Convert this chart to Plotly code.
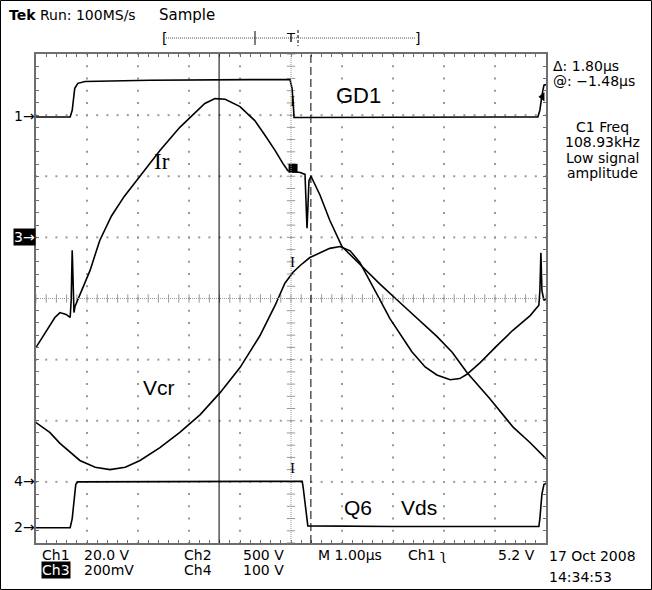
import plotly.graph_objects as go

# ---------------- data (time in µs, level in divisions from screen centre) ----------------
gd1_t = [-5.0, -4.33, -4.29, -4.27, -4.24, -4.18, -4.04, -2.77, -1.78, -0.80, -0.02, 0.02, 0.04, 0.06,
         0.18, 2.14, 4.10, 4.84, 4.88, 4.92, 4.96, 5.0]
gd1_v = [2.97, 2.97, 3.08, 3.24, 3.44, 3.52, 3.55, 3.57, 3.58, 3.58, 3.58, 3.44, 3.24, 2.96,
         2.96, 2.97, 2.97, 2.97, 3.08, 3.32, 3.49, 3.50]

vds_t = [-5.0, -4.33, -4.29, -4.25, -4.22, -4.18, -2.0, 0.22, 0.24, 0.28, 0.31, 0.33, 2.0, 4.86,
         4.88, 4.92, 4.96, 5.0]
vds_v = [-3.75, -3.75, -3.60, -3.20, -3.04, -3.00, -2.99, -2.99, -3.10, -3.40, -3.68, -3.72, -3.73, -3.73,
         -3.60, -3.20, -3.04, -3.03]

ir_t = [-5.0, -4.82, -4.63, -4.53, -4.41, -4.33, -4.31, -4.29, -4.275, -4.255, -4.235, -4.10, -3.94,
        -3.75, -3.52, -3.27, -2.96, -2.57, -2.18, -1.88, -1.69, -1.49, -1.29, -1.0, -0.71, -0.51, -0.31,
        -0.16, -0.06, 0.18, 0.275, 0.294, 0.314, 0.333, 0.353, 0.392, 0.57, 0.76, 1.0, 1.35, 1.75,
        2.14, 2.53, 2.86, 3.16, 3.45, 3.90, 4.35, 4.69, 5.0]
ir_v = [-0.80, -0.57, -0.31, -0.23, -0.26, -0.31, -0.03, 0.79, 0.13, -0.23, -0.13, 0.13, 0.46,
        0.95, 1.35, 1.67, 2.00, 2.42, 2.80, 3.04, 3.19, 3.27, 3.26, 3.14, 2.91, 2.67, 2.42,
        2.21, 2.09, 2.06, 2.03, 1.60, 1.15, 1.52, 1.93, 2.00, 1.69, 1.28, 0.85, 0.56, 0.23,
        -0.07, -0.36, -0.62, -0.88, -1.21, -1.64, -2.10, -2.36, -2.62]

vcr_t = [-5.0, -4.73, -4.53, -4.14, -3.84, -3.55, -3.25, -2.96, -2.57, -2.18, -1.78, -1.39, -1.0,
         -0.61, -0.31, -0.12, 0.04, 0.18, 0.37, 0.57, 0.76, 0.96, 1.16, 1.35, 1.55, 1.75, 1.94, 2.14,
         2.37, 2.63, 2.86, 3.12, 3.31, 3.45, 3.71, 4.04, 4.35, 4.69, 4.86, 4.88, 4.90, 4.92, 4.96, 5.0]
vcr_v = [-2.03, -2.19, -2.37, -2.65, -2.76, -2.80, -2.76, -2.65, -2.44, -2.19, -1.90, -1.54, -1.13,
         -0.61, -0.11, 0.25, 0.43, 0.54, 0.67, 0.75, 0.82, 0.85, 0.78, 0.59, 0.29, -0.03, -0.33, -0.59,
         -0.87, -1.12, -1.25, -1.33, -1.31, -1.24, -1.05, -0.77, -0.52, -0.28, -0.11, 0.13, 0.75, 0.13, -0.03, 0.0]

cursor_t = [-1.41, 0.39]          # solid cursor, dashed cursor  (Δ = 1.80 µs)
trig_marks_t = [0.03, 0.03, 0.03]  # "I" trigger-position markers on traces
trig_marks_v = [3.21, 0.58, -2.80]
ch_labels = ["1", "3", "4", "2"]
ch_levels = [2.97, 1.0, -3.0, -3.75]
trig_level = 3.30

# ---------------- layout geometry ----------------
W, H = 652, 590
L, R, T, B = 36, 106, 54, 47
PW, PH = W - L - R, H - T - B


def px(x):
    return (x - L) / PW


def py(y):
    return (H - B - y) / PH


SCOPE_FONT = "DejaVu Sans, Verdana, sans-serif"
LABEL_FONT = "Liberation Sans, Arial, sans-serif"
GRID = "#9a9a9a"

fig = go.Figure()

# graticule dots
gx, gy = [], []
for k in range(-4, 5):
    if k == 0:
        continue
    for j in range(-20, 21):
        gx.append(k)
        gy.append(j / 5)
for k in range(-3, 4):
    if k == 0:
        continue
    for j in range(-25, 26):
        gx.append(j / 5)
        gy.append(k)
fig.add_trace(go.Scatter(x=gx, y=gy, mode="markers", hoverinfo="skip",
                         marker=dict(size=2, color=GRID, symbol="square", line_width=0)))

# centre cross ticks
fig.add_trace(go.Scatter(x=[j / 5 for j in range(-25, 26)], y=[0] * 51, mode="markers", hoverinfo="skip",
                         marker=dict(size=6, symbol="line-ns", line=dict(width=1, color=GRID))))
fig.add_trace(go.Scatter(x=[0] * 41, y=[j / 5 for j in range(-20, 21)], mode="markers", hoverinfo="skip",
                         marker=dict(size=6, symbol="line-ew", line=dict(width=1, color=GRID))))
fig.add_shape(type="line", x0=-5, x1=5, y0=0, y1=0, line=dict(color=GRID, width=1, dash="1px,1px"))
fig.add_shape(type="line", x0=0, x1=0, y0=-4, y1=4, line=dict(color=GRID, width=1, dash="1px,1px"))

# cursors
fig.add_shape(type="line", x0=cursor_t[0], x1=cursor_t[0], yref="paper", y0=0, y1=1,
              line=dict(color="black", width=1))
fig.add_shape(type="line", x0=cursor_t[1], x1=cursor_t[1], yref="paper", y0=0, y1=1,
              line=dict(color="black", width=1, dash="8px,4px"))

# waveforms
for tt, vv in [(gd1_t, gd1_v), (vds_t, vds_v), (ir_t, ir_v), (vcr_t, vcr_v)]:
    fig.add_trace(go.Scatter(x=tt, y=vv, mode="lines", hoverinfo="skip",
                             line=dict(color="black", width=1.6)))

# trigger position markers
fig.add_trace(go.Scatter(x=trig_marks_t, y=trig_marks_v, mode="text", text=["I"] * 3,
                         textfont=dict(family="Liberation Serif", size=15, color="black"), hoverinfo="skip"))
fig.add_trace(go.Scatter(x=[0.04], y=[2.13], mode="markers", hoverinfo="skip",
                         marker=dict(size=9, symbol="square", color="black")))
# trigger level arrow
fig.add_trace(go.Scatter(x=[4.93], y=[trig_level], mode="markers", hoverinfo="skip", cliponaxis=False,
                         marker=dict(size=8, symbol="triangle-left", color="black")))

anns = []


def ann(text, x, y, size=14, xa="left", ya="middle", family=SCOPE_FONT, color="black", bg=None):
    d = dict(text=text, x=px(x), y=py(y), xref="paper", yref="paper", showarrow=False,
             xanchor=xa, yanchor=ya, borderpad=0, font=dict(family=family, size=size, color=color))
    if bg:
        d["bgcolor"] = bg
    anns.append(d)


# channel markers
for lab, lev in zip(ch_labels, ch_levels):
    yy = 298 - lev * PH / 8
    if lab == "3":
        ann("3→", 36, yy, size=14, xa="right", color="white", bg="black")
    else:
        ann(lab + "→", 36, yy, size=14, xa="right")

# header
ann("<b>Tek</b> Run: 100MS/s", 8, 15, size=14)
ann("Sample", 158, 15, size=15)
ann("[", 161, 38, size=14)
ann("]", 414, 38, size=14)
ann("T", 290, 38, size=13, xa="center")
fig.add_shape(type="line", xref="paper", yref="paper", x0=px(166), x1=px(416), y0=py(38), y1=py(38),
              line=dict(color="#555", width=1, dash="1px,1px"))
fig.add_shape(type="line", xref="paper", yref="paper", x0=px(255), x1=px(255), y0=py(31), y1=py(45),
              line=dict(color="black", width=1))
fig.add_shape(type="line", xref="paper", yref="paper", x0=px(298), x1=px(298), y0=py(30), y1=py(46),
              line=dict(color="black", width=1, dash="3px,2px"))

# right readouts
ann("Δ: 1.80µs", 552, 66, size=14)
ann("@: −1.48µs", 552, 81, size=14)
ann("C1 Freq", 602, 127, size=14, xa="center")
ann("108.93kHz", 602, 142, size=14, xa="center")
ann("Low signal", 602, 158, size=14, xa="center")
ann("amplitude", 602, 173, size=14, xa="center")

# bottom readouts
ann("Ch1", 41, 555, size=14)
ann("20.0 V", 83, 555, size=14)
ann("Ch2", 183, 555, size=14)
ann("500 V", 242, 555, size=14)
ann("M 1.00µs", 317, 555, size=14)
ann("Ch1 ʅ", 407, 555, size=14)
ann("5.2 V", 497, 555, size=14)
ann("Ch3", 41, 570, size=14, color="white", bg="black")
ann("200mV", 83, 570, size=14)
ann("Ch4", 183, 570, size=14)
ann("100 V", 242, 570, size=14)
ann("17 Oct 2008", 548, 556, size=14)
ann("14:34:53", 548, 577, size=14)

# waveform labels
ann("GD1", 358, 95, size=22, xa="center", family=LABEL_FONT)
ann("Ir", 162, 162, size=23, xa="center", family="Liberation Serif, Times New Roman, serif")
ann("Vcr", 159, 387, size=21, xa="center", family=LABEL_FONT)
ann("Q6", 358, 507, size=21, xa="center", family=LABEL_FONT)
ann("Vds", 419, 507, size=21, xa="center", family=LABEL_FONT)

# outer frame
fig.add_shape(type="rect", xref="paper", yref="paper", x0=px(0.5), x1=px(651.5), y0=py(0.5), y1=py(589.5),
              line=dict(color="black", width=1))

axis_common = dict(showgrid=False, zeroline=False, showline=True, linecolor="#6e6e6e", linewidth=2,
                   mirror="ticks", ticks="inside", ticklen=3, tickcolor="#6e6e6e", tickwidth=1,
                   showticklabels=False, fixedrange=True)
fig.update_layout(
    width=W, height=H, margin=dict(l=L, r=R, t=T, b=B), paper_bgcolor="white", plot_bgcolor="white",
    showlegend=False, annotations=anns,
    xaxis=dict(range=[-5, 5], dtick=0.2, tick0=0, **axis_common),
    yaxis=dict(range=[-4, 4], dtick=0.2, tick0=0, **axis_common),
)

fig.write_html("out.html")
